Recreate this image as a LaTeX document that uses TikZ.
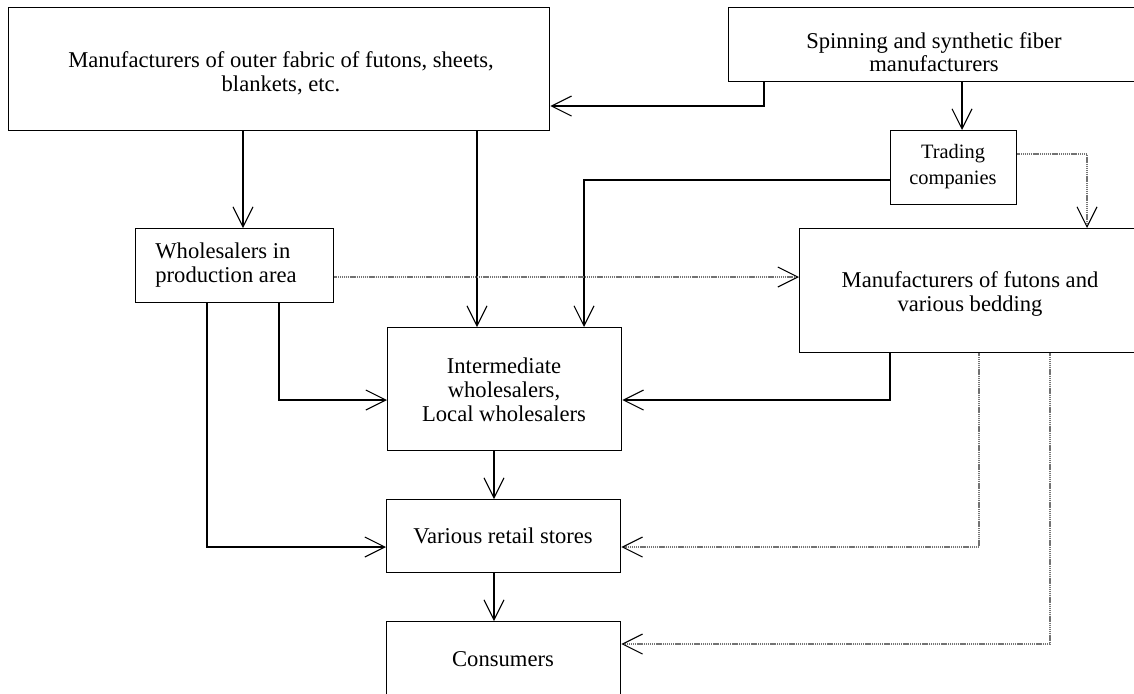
\documentclass[tikz,border=0pt]{standalone}
\usepackage{fontspec}
\setmainfont{Liberation Serif}
\usetikzlibrary{arrows.meta}
\begin{document}
\begin{tikzpicture}[x=0.5pt,y=-0.5pt,
  box/.style={draw, line width=0.65pt, inner sep=0pt, anchor=north west},
  txt/.style={align=center, inner sep=0pt, font=\fontsize{11.3pt}{12pt}\selectfont},
  arr/.style={line width=0.55pt, -{Straight Barb[length=10pt,width=10pt]}},
  darr/.style={line width=1pt, black!55, dash pattern=on 0.6pt off 0.35pt,
     -{Straight Barb[length=10pt,width=10pt,color=black,line width=0.55pt]}}]
\useasboundingbox (0,0) rectangle (1134,693);
% boxes
\node[box, minimum width=270.5pt, minimum height=61.5pt] (A) at (8,7) {};
\node[box, minimum width=206pt, minimum height=37pt] (B) at (728,7) {};
\node[box, minimum width=63pt, minimum height=37pt] (T) at (890,130) {};
\node[box, minimum width=99pt, minimum height=37pt] (W) at (135,228) {};
\node[box, minimum width=171pt, minimum height=62pt] (F) at (799,228) {};
\node[box, minimum width=117pt, minimum height=61.5pt] (I) at (387,327) {};
\node[box, minimum width=117pt, minimum height=36.5pt] (R) at (386,499) {};
\node[box, minimum width=117pt, minimum height=38pt] (C) at (386,621) {};
% texts
\node[txt] (tA) at (281,73) {Manufacturers of outer fabric of futons, sheets,\\blankets, etc.};
\node[txt, font=\fontsize{11.3pt}{10pt}\selectfont] (tB) at (934,52) {Spinning and synthetic fiber\\manufacturers};
\node[txt, font=\fontsize{10.2pt}{13pt}\selectfont] (tT) at (953,167) {Trading\\companies};
\node[txt, align=left, anchor=west] (tW) at (155,265) {Wholesalers in\\production area};
\node[txt] (tF) at (970,294) {Manufacturers of futons and\\various bedding};
\node[txt] (tI) at (504,389.5) {Intermediate\\wholesalers,\\Local wholesalers};
\node[txt] (tR) at (503,536) {Various retail stores};
\node[txt] (tC) at (503,659) {Consumers};
% solid connectors
\draw[arr] (B.south -| 764,0) |- (A.east |- 0,106);
\draw[arr] (B.south -| 962,0) -- (T.north -| 962,0);
\draw[arr] (T.west |- 0,180) -| (I.north -| 584,0);
\draw[arr] (A.south -| 243,0) -- (W.north -| 243,0);
\draw[arr] (A.south -| 477,0) -- (I.north -| 477,0);
\draw[arr] (W.south -| 279,0) |- (I.west |- 0,400);
\draw[arr] (W.south -| 207,0) |- (R.west |- 0,547);
\draw[arr] (F.south -| 890,0) |- (I.east |- 0,400);
\draw[arr] (I.south -| 494,0) -- (R.north -| 494,0);
\draw[arr] (R.south -| 494,0) -- (C.north -| 494,0);
% dotted connectors
\draw[darr] (T.east |- 0,154) -| (F.north -| 1087,0);
\draw[darr] (W.east |- 0,277) -- (F.west |- 0,277);
\draw[darr] (F.south -| 979,0) |- (R.east |- 0,547);
\draw[darr] (F.south -| 1050,0) |- (C.east |- 0,644);
\end{tikzpicture}
\end{document}
